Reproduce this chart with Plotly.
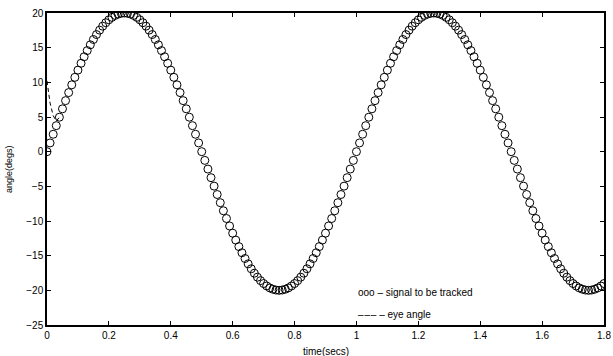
import plotly.graph_objects as go

# signal to be tracked (degrees), sampled every 0.01 s from 0 to 1.8 s
signal_deg = [
    0, 1.26, 2.51, 3.75, 4.97, 6.18, 7.36, 8.52, 9.64, 10.72,
    11.76, 12.75, 13.69, 14.58, 15.41, 16.18, 16.89, 17.53, 18.10, 18.60,
    19.02, 19.37, 19.65, 19.84, 19.96, 20.00, 19.96, 19.84, 19.65, 19.37,
    19.02, 18.60, 18.10, 17.53, 16.89, 16.18, 15.41, 14.58, 13.69, 12.75,
    11.76, 10.72, 9.64, 8.52, 7.36, 6.18, 4.97, 3.75, 2.51, 1.26,
    0, -1.26, -2.51, -3.75, -4.97, -6.18, -7.36, -8.52, -9.64, -10.72,
    -11.76, -12.75, -13.69, -14.58, -15.41, -16.18, -16.89, -17.53, -18.10, -18.60,
    -19.02, -19.37, -19.65, -19.84, -19.96, -20.00, -19.96, -19.84, -19.65, -19.37,
    -19.02, -18.60, -18.10, -17.53, -16.89, -16.18, -15.41, -14.58, -13.69, -12.75,
    -11.76, -10.72, -9.64, -8.52, -7.36, -6.18, -4.97, -3.75, -2.51, -1.26,
    0, 1.26, 2.51, 3.75, 4.97, 6.18, 7.36, 8.52, 9.64, 10.72,
    11.76, 12.75, 13.69, 14.58, 15.41, 16.18, 16.89, 17.53, 18.10, 18.60,
    19.02, 19.37, 19.65, 19.84, 19.96, 20.00, 19.96, 19.84, 19.65, 19.37,
    19.02, 18.60, 18.10, 17.53, 16.89, 16.18, 15.41, 14.58, 13.69, 12.75,
    11.76, 10.72, 9.64, 8.52, 7.36, 6.18, 4.97, 3.75, 2.51, 1.26,
    0, -1.26, -2.51, -3.75, -4.97, -6.18, -7.36, -8.52, -9.64, -10.72,
    -11.76, -12.75, -13.69, -14.58, -15.41, -16.18, -16.89, -17.53, -18.10, -18.60,
    -19.02, -19.37, -19.65, -19.84, -19.96, -20.00, -19.96, -19.84, -19.65, -19.37,
    -19.02,
]
sample_dt = 0.01
time_s = [round(i * sample_dt, 2) for i in range(len(signal_deg))]

# eye angle: visible initial transient before it merges with the signal
eye_time_s = [0.0, 0.01, 0.02, 0.03, 0.04]
eye_deg = [10.2, 7.0, 5.2, 4.4, 4.97]

x_ticks = [0, 0.2, 0.4, 0.6, 0.8, 1, 1.2, 1.4, 1.6, 1.8]
x_tick_labels = ["0", "0.2", "0.4", "0.6", "0.8", "1", "1.2", "1.4", "1.6", "1.8"]
y_ticks = [-25, -20, -15, -10, -5, 0, 5, 10, 15, 20]
y_tick_labels = ["\u221225", "\u221220", "\u221215", "\u221210", "\u22125", "0", "5", "10", "15", "20"]

legend_texts = ["ooo \u2013 signal to be tracked",
                "\u2013\u200a\u2013\u200a\u2013 \u2013 eye angle"]
legend_x = [1.0, 1.0]
legend_y = [-20.3, -23.5]

FONT = "Liberation Sans, Arial, Helvetica, sans-serif"

fig = go.Figure()
fig.add_trace(go.Scatter(
    x=eye_time_s, y=eye_deg, mode="lines",
    line=dict(color="black", width=1, dash="4px,3px"),
    showlegend=False, hoverinfo="skip",
))
fig.add_trace(go.Scatter(
    x=time_s, y=signal_deg, mode="markers",
    marker=dict(symbol="circle-open", size=8, color="black", line=dict(width=1, color="black")),
    showlegend=False,
))

for tx, ty, tt in zip(legend_x, legend_y, legend_texts):
    fig.add_annotation(x=tx, y=ty, text=tt, showarrow=False, xanchor="left", yanchor="middle",
                       font=dict(family=FONT, size=10, color="black"))

# axis titles placed as paper annotations
fig.add_annotation(x=0.5, y=-0.085, xref="paper", yref="paper", text="time(secs)",
                   showarrow=False, xanchor="center", yanchor="middle",
                   font=dict(family=FONT, size=10, color="black"))
fig.add_annotation(x=-0.068, y=0.5, xref="paper", yref="paper", text="angle(degs)",
                   showarrow=False, xanchor="center", yanchor="middle", textangle=-90,
                   font=dict(family=FONT, size=9, color="black"))

axis_common = dict(
    showgrid=False, zeroline=False, showline=True, linecolor="black", linewidth=1.5,
    mirror="ticks", ticks="inside", ticklen=4, tickcolor="black", tickwidth=1,
    tickfont=dict(family=FONT, size=10, color="black"), automargin=False,
    ticklabeloverflow="allow",
)
fig.update_xaxes(range=[0, 1.8], tickvals=x_ticks, ticktext=x_tick_labels, **axis_common)
fig.update_yaxes(range=[-25, 20], tickvals=y_ticks, ticktext=y_tick_labels, **axis_common)

fig.update_layout(
    width=613, height=356,
    margin=dict(l=47, r=9, t=13, b=31),
    paper_bgcolor="white", plot_bgcolor="white",
    font=dict(family=FONT, size=10, color="black"),
)

fig.write_html("out.html", config={"displayModeBar": False},
               post_script="document.body.style.margin='0';document.body.style.overflow='hidden';")
